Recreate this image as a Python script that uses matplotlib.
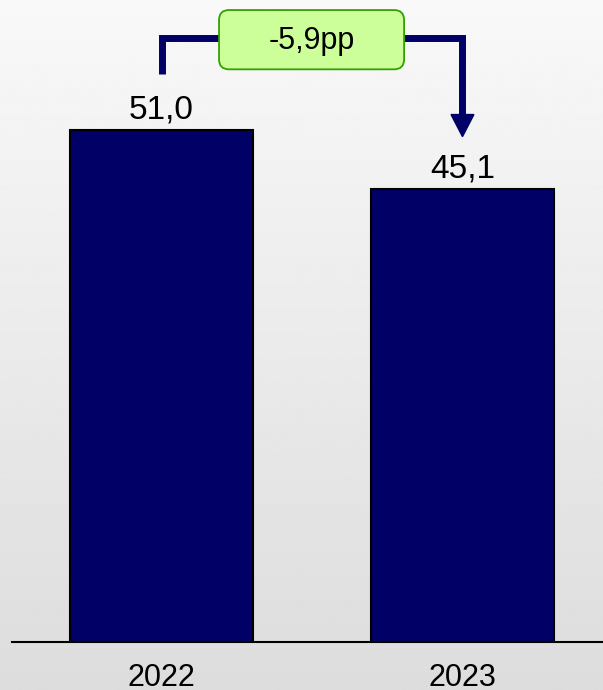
import numpy as np
import matplotlib.pyplot as plt
from matplotlib.patches import FancyBboxPatch

years = ['2022', '2023']
values = [51.0, 45.1]
delta_label = '-5,9pp'

navy = '#000066'
plt.rcParams['font.family'] = ['Liberation Sans', 'DejaVu Sans']

fig = plt.figure(figsize=(6.03, 6.90), dpi=100)

# gradient background
bg = fig.add_axes([0, 0, 1, 1], zorder=0)
grad = np.linspace(0.975, 0.865, 256).reshape(-1, 1)
bg.imshow(grad, aspect='auto', cmap='gray', vmin=0, vmax=1, extent=[0, 1, 0, 1])
bg.axis('off')

ax = fig.add_axes([12/603, 48/690, 591/603, 642/690], zorder=1)
ax.patch.set_alpha(0)

x = np.arange(len(years))
ax.bar(x, values, width=0.608, color=navy, edgecolor='black', linewidth=1.5)

for xi, v in zip(x, values):
  ax.text(xi, v + 2.0, f'{v:.1f}'.replace('.', ','), ha='center', va='center', fontsize=24)

ax.set_xlim(-0.497, 1.467)
ax.set_ylim(0, 63.9)
for s in ['left', 'right', 'top']:
  ax.spines[s].set_visible(False)
ax.spines['bottom'].set_linewidth(1.5)
ax.set_yticks([])
ax.set_xticks(x)
ax.set_xticklabels(years, fontsize=22)
ax.tick_params(axis='x', length=0, pad=15)

# connector with change label
top = max(values) + 9.1
box_l, box_r = 0.191, 0.806
ax.plot([0, 0, box_l], [values[0] + 5.5, top, top], color=navy, lw=5,
        solid_capstyle='butt', solid_joinstyle='miter', clip_on=False)
tip = values[1] + 5.2
ax.plot([box_r, 1, 1], [top, top, tip + 2.0], color=navy, lw=5,
        solid_capstyle='butt', solid_joinstyle='miter', clip_on=False)
ax.fill([0.962, 1.038, 1], [tip + 2.2, tip + 2.2, tip], color=navy, clip_on=False)

box = FancyBboxPatch((box_l, 57.0), box_r - box_l, 5.9,
                     boxstyle='round,pad=0,rounding_size=0.033', mutation_aspect=30,
                     facecolor='#ccff99', edgecolor='#33a000', linewidth=1.3,
                     clip_on=False, zorder=3)
ax.add_patch(box)
ax.text((box_l + box_r) / 2, 59.8, delta_label, ha='center', va='center', fontsize=22, zorder=4)

fig.savefig('out.png', dpi=100)
